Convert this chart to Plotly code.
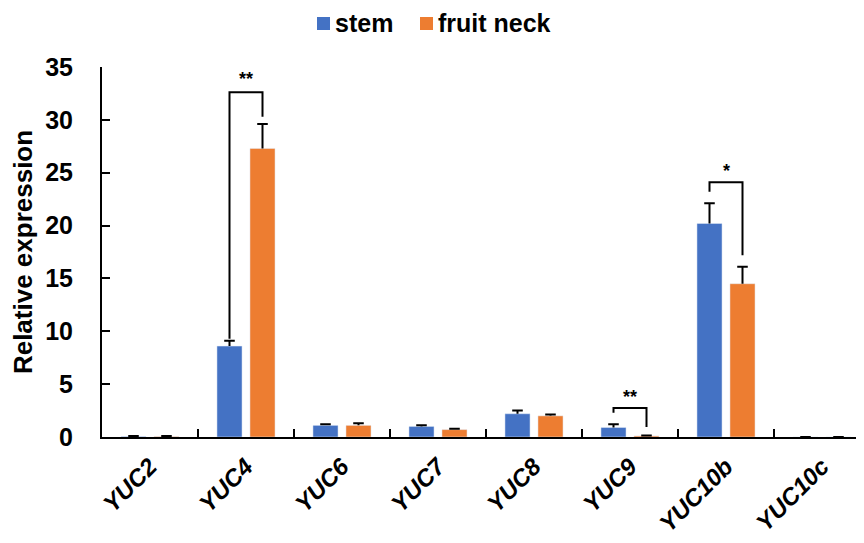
import plotly.graph_objects as go

categories = ["YUC2", "YUC4", "YUC6", "YUC7", "YUC8", "YUC9", "YUC10b", "YUC10c"]
stem = [0.05, 8.6, 1.1, 1.0, 2.2, 0.9, 20.2, 0.0]
stem_err = [0.05, 0.5, 0.1, 0.12, 0.3, 0.3, 1.9, 0.0]
neck = [0.05, 27.3, 1.1, 0.7, 2.0, 0.1, 14.5, 0.0]
neck_err = [0.05, 2.3, 0.2, 0.08, 0.12, 0.05, 1.6, 0.0]
series_names = ["stem", "fruit neck"]

# significance brackets: (category index, top, left bottom, right bottom, label, label y)
brackets = [
    (1, 32.6, 9.3, 30.3, "**", 33.9),
    (5, 2.75, 2.3, 0.95, "**", 3.75),
    (6, 24.1, 23.2, 17.2, "*", 25.2),
]

BLUE = "#4472C4"
ORANGE = "#ED7D31"
FONT = "Liberation Sans, Arial, sans-serif"

# page has an 8px body margin; figure drawn from (8, 8)
OFF = 8
FIG_W, FIG_H = 864 - OFF, 543 - OFF
# plot area in page pixels
L, R, T, B = 102, 864, 67, 437
W, H = R - L, B - T

BARGAP = 0.3125
SLOT = (1 - BARGAP) / 2          # width of each bar slot in category units
CAP = 0.055                      # half cap width in category units


def px(x):
    return (x - L) / W


def py(y):
    return (B - y) / H


fig = go.Figure()
fig.add_trace(go.Bar(name=series_names[0], x=categories, y=stem,
                     marker_color=BLUE, showlegend=False))
fig.add_trace(go.Bar(name=series_names[1], x=categories, y=neck,
                     marker_color=ORANGE, showlegend=False))

# upward-only error bars (Excel style, no cap at the bar top)
for vals, errs, sign in [(stem, stem_err, -1), (neck, neck_err, 1)]:
    for i, (v, e) in enumerate(zip(vals, errs)):
        cx = i + sign * SLOT / 2
        fig.add_shape(type="path",
                      path=f"M {cx},{v} L {cx},{v + e} M {cx - CAP},{v + e} L {cx + CAP},{v + e}",
                      line=dict(color="black", width=2), xref="x", yref="y")

off = SLOT / 2
for idx, top, lb, rb, lab, ly in brackets:
    xl, xr = idx - off, idx + off
    fig.add_shape(type="path",
                  path=f"M {xl},{lb} L {xl},{top} L {xr},{top} L {xr},{rb}",
                  line=dict(color="black", width=2), xref="x", yref="y")
    fig.add_annotation(x=idx, y=ly, text=lab, showarrow=False,
                       font=dict(family=FONT, size=18, color="black", weight="bold"),
                       xref="x", yref="y")

# legend (manual, to match spacing)
legend_items = [(series_names[0], BLUE, 317), (series_names[1], ORANGE, 420)]
for name, col, x0 in legend_items:
    fig.add_shape(type="rect", xref="paper", yref="paper",
                  x0=px(x0), x1=px(x0 + 13), y0=py(30), y1=py(17),
                  fillcolor=col, line=dict(width=0))
    fig.add_annotation(xref="paper", yref="paper", x=px(x0 + 16), y=py(23),
                       xanchor="left", yanchor="middle", text=name, showarrow=False,
                       font=dict(family=FONT, size=25, color="black", weight="bold"))

fig.update_layout(
    width=FIG_W, height=FIG_H,
    margin=dict(l=L - OFF, r=0, t=T - OFF, b=FIG_H - (B - OFF)),
    paper_bgcolor="white", plot_bgcolor="white",
    barmode="group", bargap=BARGAP, bargroupgap=0.24,
    font=dict(family=FONT, color="black"),
    showlegend=False,
)
fig.update_xaxes(
    range=[-0.5, 7.4375], showline=True, linecolor="black", linewidth=2,
    ticks="inside", tickson="boundaries", ticklen=8, tickwidth=2, tickcolor="black",
    tickangle=-45, tickfont=dict(family=FONT, size=24, weight="bold", style="italic"),
    ticklabelstandoff=4,
    showgrid=False, zeroline=False, automargin=False,
)
fig.update_yaxes(
    range=[0, 35], dtick=5, showline=True, linecolor="black", linewidth=2,
    ticks="inside", ticklen=8, tickwidth=2, tickcolor="black",
    tickfont=dict(family=FONT, size=25, weight="bold"), ticklabelstandoff=22,
    title=dict(text="Relative expression", font=dict(family=FONT, size=26, weight="bold"), standoff=12),
    showgrid=False, zeroline=False, automargin=False,
)

fig.write_html("out.html")
